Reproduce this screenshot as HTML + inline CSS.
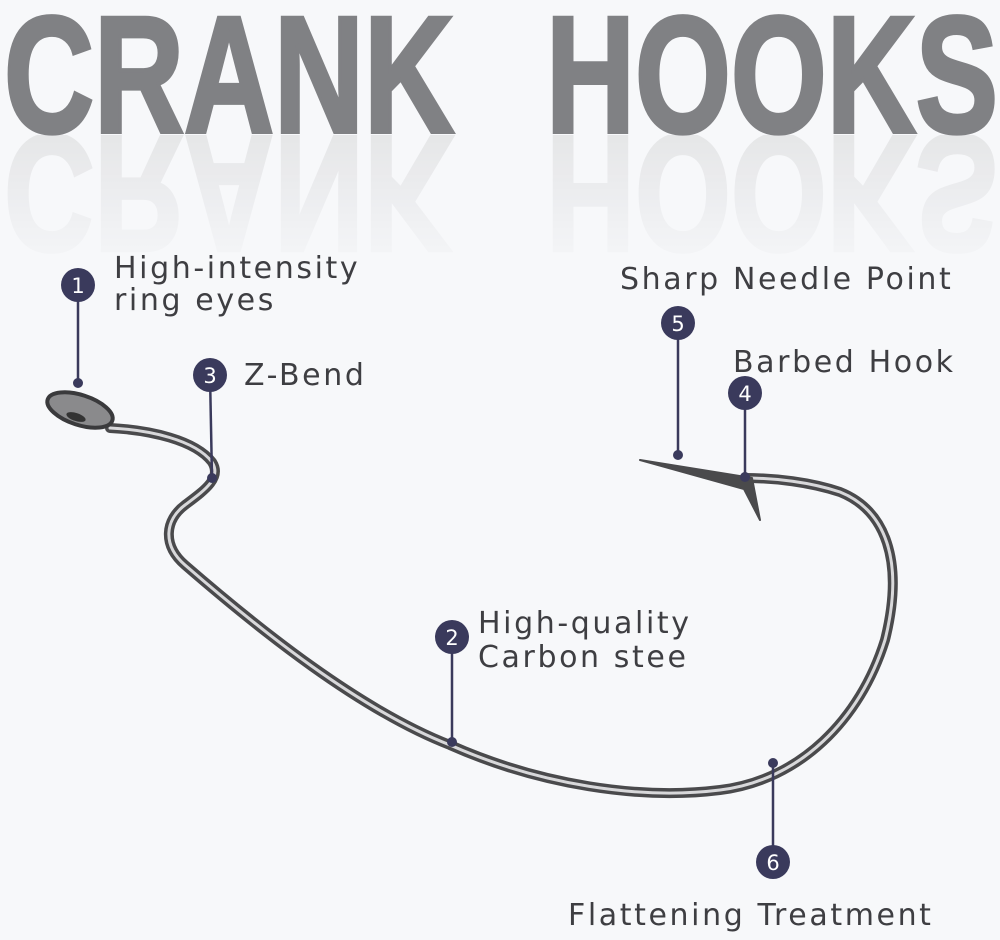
<!DOCTYPE html>
<html><head><meta charset="utf-8"><style>
html,body{margin:0;padding:0;background:#f7f8fa;}
svg{display:block}
.t{font-family:"DejaVu Sans","Liberation Sans",sans-serif;font-size:30px;fill:#3e3e42;letter-spacing:2.6px}
.n{font-family:"DejaVu Sans","Liberation Sans",sans-serif;font-size:21px;fill:#fff;text-anchor:middle}
</style></head><body>
<svg width="1000" height="940" viewBox="0 0 1000 940" xmlns="http://www.w3.org/2000/svg">
<defs>
<linearGradient id="fade" gradientUnits="userSpaceOnUse" x1="0" y1="135" x2="0" y2="262">
<stop offset="0" stop-color="#fff" stop-opacity="0.16"/>
<stop offset="1" stop-color="#fff" stop-opacity="0.02"/>
</linearGradient>
<mask id="m" maskUnits="userSpaceOnUse" x="0" y="0" width="1000" height="940"><rect x="0" y="135" width="1000" height="130" fill="url(#fade)"/></mask>
</defs>
<rect width="1000" height="940" fill="#f7f8fa"/>
<g font-family="Liberation Sans, sans-serif" font-weight="bold" font-size="166" fill="#808184" stroke="#808184" stroke-width="4">
<text x="4" y="132" textLength="450" lengthAdjust="spacingAndGlyphs">CRANK</text>
<text x="546" y="132" textLength="452" lengthAdjust="spacingAndGlyphs">HOOKS</text>
</g>
<g mask="url(#m)">
<g transform="translate(0,268) scale(1,-1)" font-family="Liberation Sans, sans-serif" font-weight="bold" font-size="166" fill="#8a8a8c" stroke="#8a8a8c" stroke-width="4">
<text x="4" y="132" textLength="450" lengthAdjust="spacingAndGlyphs">CRANK</text>
<text x="546" y="132" textLength="452" lengthAdjust="spacingAndGlyphs">HOOKS</text>
</g>
</g>
<!-- hook -->
<g fill="none" stroke-linecap="round" stroke-linejoin="round">
<path d="M110,428 C150,430 195,440 212,462 C222,478 205,490 185,505 C165,520 162,545 185,565 C260,630 360,710 450,745 C540,785 640,800 720,790 C800,780 860,720 885,640 C905,560 885,510 840,492 C810,482 775,478 745,478" stroke="#4a4a4c" stroke-width="10"/>
<path d="M110,428 C150,430 195,440 212,462 C222,478 205,490 185,505 C165,520 162,545 185,565 C260,630 360,710 450,745 C540,785 640,800 720,790 C800,780 860,720 885,640 C905,560 885,510 840,492 C810,482 775,478 745,478" stroke="#d8d8da" stroke-width="3"/>
<path d="M640,460 L752,478 L760,520 L744,489 Z" fill="#4a4a4c" stroke="#4a4a4c" stroke-width="2"/>
<ellipse cx="80" cy="410" rx="34" ry="15" fill="#8a8a8c" stroke="#3a3a3c" stroke-width="4" transform="rotate(18 80 410)"/>
<ellipse cx="76" cy="417" rx="10" ry="4" fill="#333" transform="rotate(18 76 417)"/>
</g>
<!-- callouts -->
<g stroke="#3a3a5c" stroke-width="2.5">
<line x1="78" y1="285" x2="78" y2="383"/>
<line x1="210" y1="375" x2="212" y2="478"/>
<line x1="678" y1="323" x2="678" y2="455"/>
<line x1="745" y1="393" x2="745" y2="477"/>
<line x1="452" y1="637" x2="452" y2="742"/>
<line x1="773" y1="763" x2="773" y2="862"/>
</g>
<g fill="#3a3a5c">
<circle cx="78" cy="383" r="5"/><circle cx="212" cy="478" r="5"/><circle cx="678" cy="455" r="5"/>
<circle cx="745" cy="477" r="5"/><circle cx="452" cy="742" r="5"/><circle cx="773" cy="763" r="5"/>
<circle cx="78" cy="285" r="17"/><circle cx="210" cy="375" r="17"/><circle cx="678" cy="323" r="17"/>
<circle cx="745" cy="393" r="17"/><circle cx="452" cy="637" r="17"/><circle cx="773" cy="862" r="17"/>
</g>
<text class="n" x="78" y="293">1</text>
<text class="n" x="210" y="383">3</text>
<text class="n" x="678" y="331">5</text>
<text class="n" x="745" y="401">4</text>
<text class="n" x="452" y="645">2</text>
<text class="n" x="773" y="870">6</text>
<text class="t" x="114" y="278">High-intensity</text>
<text class="t" x="114" y="310">ring eyes</text>
<text class="t" x="244" y="385">Z-Bend</text>
<text class="t" x="620" y="289">Sharp Needle Point</text>
<text class="t" x="733" y="372">Barbed Hook</text>
<text class="t" x="478" y="633">High-quality</text>
<text class="t" x="478" y="667">Carbon stee</text>
<text class="t" x="568" y="925">Flattening Treatment</text>
</svg>
</body></html>
